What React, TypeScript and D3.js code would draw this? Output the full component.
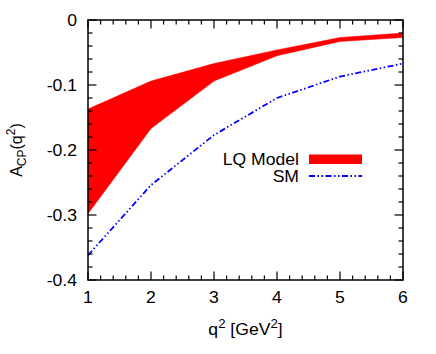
import React from "react";
import * as d3 from "d3";

const q2 = [1, 2, 3, 4, 5, 6];
const lqUpper = [-0.137, -0.094, -0.067, -0.046, -0.027, -0.02];
const lqLower = [-0.298, -0.167, -0.094, -0.055, -0.033, -0.027];
const smValues = [-0.362, -0.254, -0.177, -0.12, -0.087, -0.067];
const xTicks = [1, 2, 3, 4, 5, 6];
const yTicks = [0, -0.1, -0.2, -0.3, -0.4];
const yTickLabels = ["0", "-0.1", "-0.2", "-0.3", "-0.4"];
const legendLabels = ["LQ Model", "SM"];

const W = 436;
const H = 354;
const L = 88, R = 403, T = 20, B = 280;
const FONT = "'Liberation Sans', Arial, Helvetica, sans-serif";
const SX = 1.1;

function Txt({ x, y, anchor = "start", size = 16, children }: any) {
  return (
    <text
      transform={`translate(${x},${y}) scale(${SX},1)`}
      textAnchor={anchor}
      fontSize={size}
      fontFamily={FONT}
      fill="#000"
    >
      {children}
    </text>
  );
}

export default function App() {
  const x = d3.scaleLinear().domain([1, 6]).range([L, R]);
  const y = d3.scaleLinear().domain([-0.4, 0]).range([B, T]);

  const band = q2.map((q, i) => ({ q, lo: lqLower[i], hi: lqUpper[i] }));
  const area = d3
    .area<any>()
    .x((d) => x(d.q))
    .y0((d) => y(d.lo))
    .y1((d) => y(d.hi));
  const line = d3
    .line<any>()
    .x((d) => x(d.q))
    .y((d) => y(d.v));
  const smData = q2.map((q, i) => ({ q, v: smValues[i] }));

  const xMinor = d3.range(1, 6.0001, 0.2);
  const yMinor = d3.range(-0.4, 0.0001, 0.02);
  const dash = "6,2.5,1.5,2.5,1.5,2.5";
  const major = 8.5;
  const minor = 4.5;

  return (
    <svg width={W} height={H} style={{ position: "absolute", left: 0, top: 0 }}>
      <rect width={W} height={H} fill="#fff" />
      <path d={area(band) || ""} fill="#ff0000" stroke="#ff0000" strokeWidth={0.5} />
      <path
        d={line(smData) || ""}
        fill="none"
        stroke="#0000ff"
        strokeWidth={1.8}
        strokeDasharray={dash}
      />
      {/* ticks */}
      <g stroke="#000" strokeWidth={1.2}>
        {xMinor.map((v, i) => {
          const isMajor = Math.abs(v - Math.round(v)) < 1e-6;
          const len = isMajor ? major : minor;
          const px = x(v);
          return (
            <g key={"xm" + i}>
              <line x1={px} x2={px} y1={B} y2={B - len} />
              <line x1={px} x2={px} y1={T} y2={T + len} />
            </g>
          );
        })}
        {yMinor.map((v, i) => {
          const isMajor = Math.abs(v * 10 - Math.round(v * 10)) < 1e-6;
          const len = isMajor ? major : minor;
          const py = y(v);
          return (
            <g key={"ym" + i}>
              <line x1={L} x2={L + len} y1={py} y2={py} />
              <line x1={R} x2={R - len} y1={py} y2={py} />
            </g>
          );
        })}
      </g>
      <rect x={L} y={T} width={R - L} height={B - T} fill="none" stroke="#000" strokeWidth={1.5} />
      {xTicks.map((v) => (
        <Txt key={"xt" + v} x={x(v)} y={303} anchor="middle">
          {v}
        </Txt>
      ))}
      {yTicks.map((v, i) => (
        <Txt key={"yt" + i} x={77} y={y(v) + 5.5} anchor="end">
          {yTickLabels[i]}
        </Txt>
      ))}
      {/* x title */}
      <Txt x={(L + R) / 2} y={335} anchor="middle">
        <tspan>q</tspan>
        <tspan fontSize={12} dy={-7}>2</tspan>
        <tspan dy={7}> [GeV</tspan>
        <tspan fontSize={12} dy={-7}>2</tspan>
        <tspan dy={7}>]</tspan>
      </Txt>
      {/* y title */}
      <text
        transform={`translate(22,${(T + B) / 2}) rotate(-90) scale(1,1)`}
        textAnchor="middle"
        fontSize={16}
        fontFamily={FONT}
        fill="#000"
      >
        <tspan>A</tspan>
        <tspan fontSize={12} dy={4}>CP</tspan>
        <tspan dy={-4}>(q</tspan>
        <tspan fontSize={12} dy={-7}>2</tspan>
        <tspan dy={7}>)</tspan>
      </text>
      {/* legend */}
      <Txt x={299} y={165} anchor="end">
        {legendLabels[0]}
      </Txt>
      <rect x={309} y={154.5} width={53} height={9.5} fill="#ff0000" />
      <Txt x={299} y={182} anchor="end">
        {legendLabels[1]}
      </Txt>
      <line
        x1={309}
        x2={362}
        y1={176}
        y2={176}
        stroke="#0000ff"
        strokeWidth={1.8}
        strokeDasharray={dash}
      />
    </svg>
  );
}
